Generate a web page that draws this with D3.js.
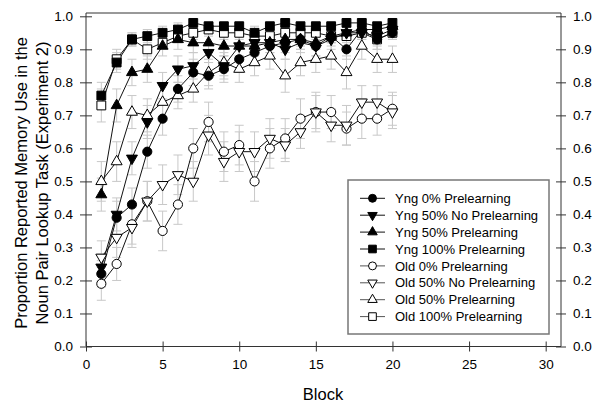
<!DOCTYPE html>
<html><head><meta charset="utf-8">
<script src="https://cdn.jsdelivr.net/npm/d3@7"></script>
<style>body{margin:0;background:#fff}text{font-family:Arial,"Liberation Sans",sans-serif;fill:#000}</style>
</head><body>
<svg id="c" width="600" height="405"></svg>
<script>
const blocks = [1,2,3,4,5,6,7,8,9,10,11,12,13,14,15,16,17,18,19,20];
const seriesNames = ["Yng 0% Prelearning","Yng 50% No Prelearning","Yng 50% Prelearning","Yng 100% Prelearning",
  "Old 0% Prelearning","Old 50% No Prelearning","Old 50% Prelearning","Old 100% Prelearning"];
const yng0   = [0.22,0.39,0.43,0.59,0.69,0.78,0.83,0.82,0.84,0.87,0.89,0.91,0.92,0.93,0.91,0.94,0.90,0.96,0.93,0.95];
const yng50N = [0.24,0.40,0.57,0.68,0.79,0.84,0.85,0.89,0.85,0.91,0.92,0.92,0.90,0.92,0.91,0.93,0.95,0.95,0.94,0.96];
const yng50P = [0.46,0.73,0.83,0.84,0.91,0.93,0.92,0.92,0.91,0.91,0.91,0.92,0.93,0.93,0.92,0.94,0.95,0.96,0.96,0.97];
const yng100 = [0.76,0.86,0.93,0.94,0.95,0.96,0.98,0.97,0.97,0.97,0.95,0.97,0.98,0.97,0.97,0.97,0.98,0.98,0.97,0.98];
const old0   = [0.19,0.25,0.37,0.44,0.35,0.43,0.60,0.68,0.59,0.61,0.50,0.60,0.63,0.69,0.71,0.71,0.66,0.69,0.69,0.72];
const old50N = [0.27,0.33,0.36,0.44,0.49,0.52,0.50,0.64,0.56,0.59,0.59,0.63,0.61,0.65,0.71,0.67,0.67,0.74,0.74,0.71];
const old50P = [0.50,0.56,0.71,0.70,0.74,0.76,0.78,0.83,0.86,0.84,0.86,0.88,0.82,0.86,0.87,0.88,0.83,0.91,0.87,0.87];
const old100 = [0.73,0.87,0.93,0.90,0.92,0.94,0.95,0.96,0.95,0.95,0.94,0.94,0.95,0.95,0.95,0.94,0.94,0.95,0.93,0.95];
const errY0   = [0.04,0.05,0.05,0.05,0.05,0.04,0.04,0.04,0.04,0.04,0.03,0.03,0.03,0.03,0.03,0.03,0.03,0.02,0.03,0.02];
const errY50N = [0.04,0.05,0.05,0.05,0.04,0.04,0.04,0.03,0.04,0.03,0.03,0.03,0.03,0.03,0.03,0.03,0.02,0.02,0.02,0.02];
const errY50P = [0.05,0.05,0.04,0.04,0.03,0.03,0.03,0.03,0.03,0.03,0.03,0.03,0.02,0.02,0.02,0.02,0.02,0.02,0.02,0.02];
const errY100 = [0.04,0.03,0.02,0.02,0.02,0.02,0.01,0.01,0.01,0.01,0.02,0.01,0.01,0.01,0.01,0.01,0.01,0.01,0.01,0.01];
const errO0   = [0.05,0.05,0.06,0.06,0.06,0.06,0.06,0.06,0.06,0.06,0.06,0.06,0.06,0.06,0.06,0.05,0.05,0.06,0.05,0.05];
const errO50N = [0.05,0.06,0.06,0.06,0.06,0.06,0.06,0.06,0.06,0.06,0.06,0.06,0.05,0.05,0.05,0.05,0.06,0.05,0.05,0.05];
const errO50P = [0.06,0.06,0.05,0.05,0.05,0.04,0.04,0.04,0.04,0.04,0.04,0.04,0.05,0.04,0.04,0.04,0.05,0.04,0.04,0.04];
const errO100 = [0.05,0.03,0.02,0.03,0.02,0.02,0.02,0.02,0.02,0.02,0.02,0.02,0.02,0.02,0.02,0.02,0.02,0.02,0.03,0.02];
const xTicks = [0,5,10,15,20,25,30];
const yTicks = [0,0.1,0.2,0.3,0.4,0.5,0.6,0.7,0.8,0.9,1.0];

const values = [yng0,yng50N,yng50P,yng100,old0,old50N,old50P,old100];
const errors = [errY0,errY50N,errY50P,errY100,errO0,errO50N,errO50P,errO100];
const shapes = ["circle","down","up","square","circle","down","up","square"];
const filled = [true,true,true,true,false,false,false,false];

const svg = d3.select("#c");
const x = d3.scaleLinear().domain([0,31]).range([86,561]);
const y = d3.scaleLinear().domain([0,1.01]).range([346.5,13]);

function symPath(shape, k){
  k = k||1;
  if(shape==="circle") return d3.symbol(d3.symbolCircle, 66*k)();
  if(shape==="square") return d3.symbol(d3.symbolSquare, 78*k)();
  return d3.symbol(d3.symbolTriangle, 52*k)();
}
function symTransform(shape, cx, cy){
  return `translate(${cx},${cy})` + (shape==="down" ? " rotate(180)" : "");
}

// frame
svg.append("line").attr("x1",86).attr("x2",561).attr("y1",13).attr("y2",13).attr("stroke","#333").attr("stroke-width",1);

// error bars
const eg = svg.append("g").attr("stroke","#c8c8c8").attr("stroke-width",1);
values.forEach((vals,si)=>{
  vals.forEach((v,i)=>{
    const cx = x(blocks[i]), e = errors[si][i];
    const y1 = y(v+e), y2 = y(v-e);
    eg.append("line").attr("x1",cx).attr("x2",cx).attr("y1",y1).attr("y2",y2);
    eg.append("line").attr("x1",cx-4.5).attr("x2",cx+4.5).attr("y1",y1).attr("y2",y1);
    eg.append("line").attr("x1",cx-4.5).attr("x2",cx+4.5).attr("y1",y2).attr("y2",y2);
  });
});

// lines & markers (draw old first, then young on top)
const order = [4,5,6,7,0,1,2,3];
const line = d3.line().x((d,i)=>x(blocks[i])).y(d=>y(d));
order.forEach(si=>{
  svg.append("path").datum(values[si]).attr("d",line).attr("fill","none")
    .attr("stroke","#111").attr("stroke-width",1);
});
order.forEach(si=>{
  svg.append("g").selectAll("path").data(values[si]).join("path")
    .attr("d",symPath(shapes[si]))
    .attr("transform",(d,i)=>symTransform(shapes[si], x(blocks[i]), y(d)))
    .attr("fill",filled[si] ? "#000" : "#fff")
    .attr("stroke","#000").attr("stroke-width",1);
});

// axes
const xa = svg.append("g").attr("transform","translate(0,346.5)")
  .call(d3.axisBottom(x).tickValues(xTicks).tickFormat(d3.format("d")).tickSizeOuter(0));
const ya = svg.append("g").attr("transform","translate(86,0)")
  .call(d3.axisLeft(y).tickValues(yTicks).tickFormat(d3.format(".1f")).tickSizeOuter(0));
const yr = svg.append("g").attr("transform","translate(561,0)")
  .call(d3.axisRight(y).tickValues(yTicks).tickFormat(d3.format(".1f")).tickSizeOuter(0));
[xa,ya,yr].forEach(g=>{
  g.select(".domain").attr("stroke","#333").attr("stroke-width",1);
  g.selectAll(".tick line").attr("stroke","#333");
  g.selectAll("text").style("font-size","13.5px").attr("fill","#000");
});
xa.select(".domain").attr("d","M86,0H561");
ya.select(".domain").attr("d","M0,13V346.5");
yr.select(".domain").attr("d","M0,13V346.5");
xa.selectAll(".tick line").attr("y1",-5).attr("y2",5);
xa.selectAll(".tick text").attr("y",13);
ya.selectAll(".tick line").attr("x1",-6).attr("x2",6);
ya.selectAll(".tick text").attr("x",-13);
yr.selectAll(".tick line").attr("x1",-5).attr("x2",5);
yr.selectAll(".tick text").attr("x",12);

// titles
svg.append("text").attr("x",323).attr("y",400).attr("text-anchor","middle")
  .style("font-size","16.5px").text("Block");
const yt = svg.append("text").attr("transform","translate(0,183) rotate(-90)").attr("text-anchor","middle")
  .style("font-size","16.5px");
yt.append("tspan").attr("x",0).attr("y",27).text("Proportion Reported Memory Use in the");
yt.append("tspan").attr("x",0).attr("y",48).text("Noun Pair Lookup Task (Experiment 2)");

// legend
const lg = svg.append("g");
lg.append("rect").attr("x",348).attr("y",180).attr("width",201).attr("height",154)
  .attr("fill","#fff").attr("stroke","#777").attr("stroke-width",1.5);
seriesNames.forEach((name,si)=>{
  const cy = 198.3 + si*16.9;
  lg.append("line").attr("x1",360).attr("x2",385).attr("y1",cy).attr("y2",cy)
    .attr("stroke", filled[si] ? "#111" : "#555").attr("stroke-width",1);
  lg.append("path").attr("d",symPath(shapes[si],0.75))
    .attr("transform",symTransform(shapes[si],372.5,cy))
    .attr("fill",filled[si] ? "#000" : "#fff").attr("stroke","#000").attr("stroke-width",1);
  lg.append("text").attr("x",395).attr("y",cy).attr("dy","0.36em")
    .style("font-size","13px").text(name);
});
</script>
</body></html>
